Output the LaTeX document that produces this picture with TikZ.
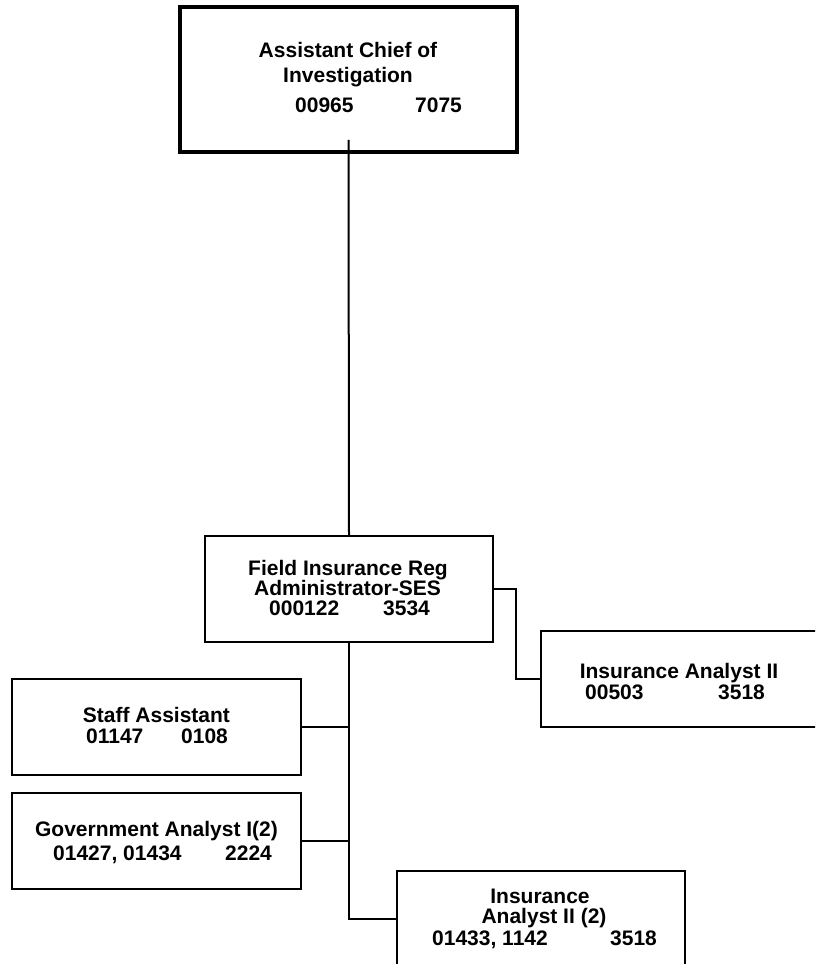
\documentclass[tikz,border=0pt]{standalone}
\usepackage{fontspec}
\setmainfont{Liberation Sans}
\usetikzlibrary{calc}
\begin{document}
\begin{tikzpicture}[x=1pt,y=-1pt,
  box/.style={draw, line width=2pt, inner sep=0pt, minimum width=#1},
  lbl/.style={inner sep=0pt, anchor=base, font=\fontsize{21}{24}\selectfont\bfseries},
  num/.style={inner sep=0pt, anchor=base west, font=\fontsize{21}{24}\selectfont\bfseries},
  link/.style={line width=2pt}]
\useasboundingbox (0,0) rectangle (815,964);
\clip (0,0) rectangle (815,964);

% boxes
\node[box=337pt, line width=3.5pt, minimum height=145pt] (top) at (348.5,79.5) {};
\node[box=288pt, minimum height=106pt] (field) at (349,589) {};
\node[box=289pt, minimum height=96pt] (ia) at (685.5,679) {};
\node[box=289pt, minimum height=96pt] (staff) at (156.5,727) {};
\node[box=289pt, minimum height=96pt] (gov) at (156.5,841) {};
\node[box=288pt, minimum height=96pt] (ia2) at (541,919) {};

% box texts
\node[lbl] (topA) at (348,57) {Assistant Chief of};
\node[lbl] (topB) at (348,82) {Investigation};
\node[num] (topC) at (295,112) {00965};
\node[num] (topD) at (415,112) {7075};

\node[lbl] (fieldA) at (348,575) {Field Insurance Reg};
\node[lbl] (fieldB) at (347.5,595) {Administrator-SES};
\node[num] (fieldC) at (269,615) {000122};
\node[num] (fieldD) at (383,615) {3534};

\node[lbl] (iaA) at (679,678) {Insurance Analyst II};
\node[num] (iaC) at (585,699) {00503};
\node[num] (iaD) at (718,699) {3518};

\node[lbl] (staffA) at (156.5,722) {Staff Assistant};
\node[num] (staffC) at (86,743) {01147};
\node[num] (staffD) at (181,743) {0108};

\node[lbl] (govA) at (156.5,836) {Government Analyst I(2)};
\node[num] (govC) at (53,860) {01427, 01434};
\node[num] (govD) at (225,860) {2224};

\node[lbl] (ia2A) at (540,903) {Insurance};
\node[lbl] (ia2B) at (544,923) {Analyst II (2)};
\node[num] (ia2C) at (432,945) {01433, 1142};
\node[num] (ia2D) at (610,945) {3518};

% reporting lines
\draw[link] ([yshift=14pt]top.south) -- (field.north);
\draw[link] (field.south) |- (ia2.west);
\draw[link] (staff.east) -- (staff.east -| field.south);
\draw[link] (gov.east) -- (gov.east -| field.south);
\draw[link] (field.east) -- ++(22,0) |- (ia.west);
\end{tikzpicture}
\end{document}
